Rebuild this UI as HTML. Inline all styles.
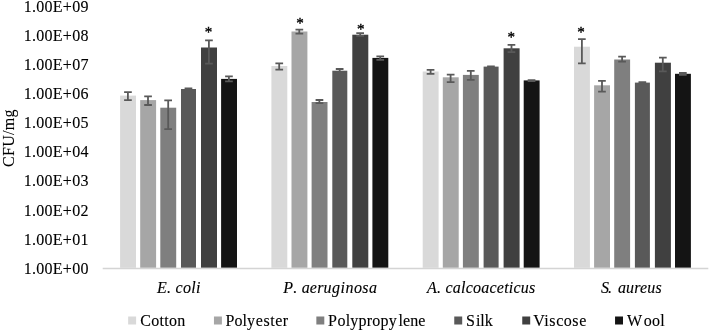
<!DOCTYPE html>
<html><head><meta charset="utf-8"><title>CFU/mg chart</title>
<style>
html,body{margin:0;padding:0;background:#fff;}
svg{display:block;}
text{font-family:"Liberation Serif","Times New Roman",serif;font-size:16px;fill:#000;stroke:#000;stroke-width:0.12px;}
.it{font-style:italic;}
text.st{stroke-width:0.35px;font-size:15px;}
</style></head><body>
<svg width="709" height="331" viewBox="0 0 709 331">
<rect width="709" height="331" fill="#fff"/>

<rect x="120.1" y="95.6" width="15.9" height="172.2" fill="#D9D9D9"/>
<rect x="140.2" y="100.1" width="15.9" height="167.7" fill="#A6A6A6"/>
<rect x="160.3" y="107.7" width="15.9" height="160.1" fill="#7F7F7F"/>
<rect x="181.0" y="89.0" width="15.0" height="178.8" fill="#595959"/>
<rect x="201.0" y="47.5" width="16.0" height="220.3" fill="#404040"/>
<rect x="221.1" y="78.9" width="15.9" height="188.9" fill="#141414"/>
<rect x="271.4" y="66.0" width="15.9" height="201.8" fill="#D9D9D9"/>
<rect x="291.5" y="31.5" width="15.9" height="236.3" fill="#A6A6A6"/>
<rect x="311.6" y="102.0" width="15.9" height="165.8" fill="#7F7F7F"/>
<rect x="332.3" y="70.7" width="15.0" height="197.1" fill="#595959"/>
<rect x="352.3" y="34.7" width="16.0" height="233.1" fill="#404040"/>
<rect x="372.4" y="57.9" width="15.9" height="209.9" fill="#141414"/>
<rect x="422.7" y="71.5" width="15.9" height="196.3" fill="#D9D9D9"/>
<rect x="442.8" y="77.3" width="15.9" height="190.5" fill="#A6A6A6"/>
<rect x="462.9" y="74.9" width="15.9" height="192.9" fill="#7F7F7F"/>
<rect x="483.6" y="66.6" width="15.0" height="201.2" fill="#595959"/>
<rect x="503.6" y="48.3" width="16.0" height="219.5" fill="#404040"/>
<rect x="523.7" y="80.4" width="15.9" height="187.4" fill="#141414"/>
<rect x="574.0" y="46.7" width="15.9" height="221.1" fill="#D9D9D9"/>
<rect x="594.1" y="85.3" width="15.9" height="182.5" fill="#A6A6A6"/>
<rect x="614.2" y="59.5" width="15.9" height="208.3" fill="#7F7F7F"/>
<rect x="634.9" y="82.6" width="15.0" height="185.2" fill="#595959"/>
<rect x="654.9" y="62.7" width="16.0" height="205.1" fill="#404040"/>
<rect x="675.0" y="73.8" width="15.9" height="194.0" fill="#141414"/>
<line x1="102.7" x2="708.3" y1="268.5" y2="268.5" stroke="#D4D4D4" stroke-width="1.3"/>
<path d="M127.9 92.1V100.1M124.1 92.1h7.7M124.1 100.1h7.7" stroke="#595959" stroke-width="1.8" fill="none"/>
<path d="M148.0 96.3V105.0M144.2 96.3h7.7M144.2 105.0h7.7" stroke="#595959" stroke-width="1.8" fill="none"/>
<path d="M168.2 100.4V129.1M164.3 100.4h7.7M164.3 129.1h7.7" stroke="#595959" stroke-width="1.8" fill="none"/>
<path d="M188.4 88.4V89.8M184.6 88.4h7.7M184.6 89.8h7.7" stroke="#595959" stroke-width="1.8" fill="none"/>
<path d="M208.9 40.3V63.6M205.1 40.3h7.7M205.1 63.6h7.7" stroke="#595959" stroke-width="1.8" fill="none"/>
<path d="M228.9 76.3V81.3M225.1 76.3h7.7M225.1 81.3h7.7" stroke="#595959" stroke-width="1.8" fill="none"/>
<path d="M279.2 63.4V69.7M275.4 63.4h7.7M275.4 69.7h7.7" stroke="#595959" stroke-width="1.8" fill="none"/>
<path d="M299.3 29.6V33.7M295.5 29.6h7.7M295.5 33.7h7.7" stroke="#595959" stroke-width="1.8" fill="none"/>
<path d="M319.4 100.0V103.2M315.6 100.0h7.7M315.6 103.2h7.7" stroke="#595959" stroke-width="1.8" fill="none"/>
<path d="M339.7 69.0V71.8M335.8 69.0h7.7M335.8 71.8h7.7" stroke="#595959" stroke-width="1.8" fill="none"/>
<path d="M360.2 33.1V35.8M356.3 33.1h7.7M356.3 35.8h7.7" stroke="#595959" stroke-width="1.8" fill="none"/>
<path d="M380.2 56.4V59.8M376.4 56.4h7.7M376.4 59.8h7.7" stroke="#595959" stroke-width="1.8" fill="none"/>
<path d="M430.6 69.8V73.9M426.7 69.8h7.7M426.7 73.9h7.7" stroke="#595959" stroke-width="1.8" fill="none"/>
<path d="M450.6 74.6V82.1M446.8 74.6h7.7M446.8 82.1h7.7" stroke="#595959" stroke-width="1.8" fill="none"/>
<path d="M470.8 70.8V79.9M466.9 70.8h7.7M466.9 79.9h7.7" stroke="#595959" stroke-width="1.8" fill="none"/>
<path d="M491.0 66.3V67.3M487.1 66.3h7.7M487.1 67.3h7.7" stroke="#595959" stroke-width="1.8" fill="none"/>
<path d="M511.5 44.9V52.1M507.6 44.9h7.7M507.6 52.1h7.7" stroke="#595959" stroke-width="1.8" fill="none"/>
<path d="M531.6 80.2V81.2M527.7 80.2h7.7M527.7 81.2h7.7" stroke="#595959" stroke-width="1.8" fill="none"/>
<path d="M581.9 39.2V63.4M578.0 39.2h7.7M578.0 63.4h7.7" stroke="#595959" stroke-width="1.8" fill="none"/>
<path d="M602.0 80.9V91.6M598.1 80.9h7.7M598.1 91.6h7.7" stroke="#595959" stroke-width="1.8" fill="none"/>
<path d="M622.1 56.6V61.7M618.2 56.6h7.7M618.2 61.7h7.7" stroke="#595959" stroke-width="1.8" fill="none"/>
<path d="M642.3 82.1V83.3M638.5 82.1h7.7M638.5 83.3h7.7" stroke="#595959" stroke-width="1.8" fill="none"/>
<path d="M662.8 57.6V71.4M659.0 57.6h7.7M659.0 71.4h7.7" stroke="#595959" stroke-width="1.8" fill="none"/>
<path d="M682.9 73.0V74.8M679.0 73.0h7.7M679.0 74.8h7.7" stroke="#595959" stroke-width="1.8" fill="none"/>
<text x="23.7" y="273.70" letter-spacing="0.28">1.00E+00</text>
<text x="23.7" y="244.60" letter-spacing="0.28">1.00E+01</text>
<text x="23.7" y="215.50" letter-spacing="0.28">1.00E+02</text>
<text x="23.7" y="186.40" letter-spacing="0.28">1.00E+03</text>
<text x="23.7" y="157.30" letter-spacing="0.28">1.00E+04</text>
<text x="23.7" y="128.20" letter-spacing="0.28">1.00E+05</text>
<text x="23.7" y="99.10" letter-spacing="0.28">1.00E+06</text>
<text x="23.7" y="70.00" letter-spacing="0.28">1.00E+07</text>
<text x="23.7" y="40.90" letter-spacing="0.28">1.00E+08</text>
<text x="23.7" y="11.80" letter-spacing="0.28">1.00E+09</text>
<text transform="translate(14.2,167.0) rotate(-90)" letter-spacing="0.3">CFU/mg</text>
<text class="it" x="157.05" y="293.4" dx="0 0.25 0.25 0.25 0.25 0.25 0.25">E. coli</text>
<text class="it" x="283.24" y="293.4" dx="0 2.4 0.1 0.2 0.2 0.2 0.2 0.5 0.45 0.45 0.45 0.45 0.45">P. aeruginosa</text>
<text class="it" x="426.93" y="293.4" dx="0 0.23 0.23 0.23 0.23 0.23 0.23 0.23 0.23 0.23 0.23 0.23 0.23 0.23 0.23 0.23">A. calcoaceticus</text>
<text class="it" x="601.10" y="293.4" dx="0 -1 1.7 0.15 0.15 0.15 0.15 0.15 0.15">S. aureus</text>
<text x="208.5" y="37.1" class="st" text-anchor="middle">*</text>
<text x="299.9" y="28.1" class="st" text-anchor="middle">*</text>
<text x="360.7" y="33.7" class="st" text-anchor="middle">*</text>
<text x="511.3" y="41.8" class="st" text-anchor="middle">*</text>
<text x="581.0" y="37.1" class="st" text-anchor="middle">*</text>
<rect x="128.15" y="316.5" width="7.95" height="8" fill="#D9D9D9"/>
<text x="140.3" y="325.9" dx="0 0.25 0.25 0.25 0.25 0.25">Cotton</text>
<rect x="213.95" y="316.5" width="7.95" height="8" fill="#A6A6A6"/>
<text x="225.6" y="325.9" dx="0 0 0 0 0.8 0.55 0.55 0.55 0.55">Polyester</text>
<rect x="316.35" y="316.5" width="7.95" height="8" fill="#7F7F7F"/>
<text x="328.1" y="325.9" dx="0 0.5 0.2 0.2 0.2 0.2 0.2 0.2 0.2 1.7 0.1 0.1 0.1">Polypropylene</text>
<rect x="454.25" y="316.5" width="7.95" height="8" fill="#595959"/>
<text x="466.0" y="325.9" dx="0 1 -0.15 0.15">Silk</text>
<rect x="522.25" y="316.5" width="7.95" height="8" fill="#404040"/>
<text x="533.2" y="325.9" dx="0 0.55 0.55 0.55 0.55 0.55 0.55">Viscose</text>
<rect x="615.05" y="316.5" width="7.95" height="8" fill="#141414"/>
<text x="627.1" y="325.9" dx="0 2.93 0.25 0.25">Wool</text>
</svg></body></html>
